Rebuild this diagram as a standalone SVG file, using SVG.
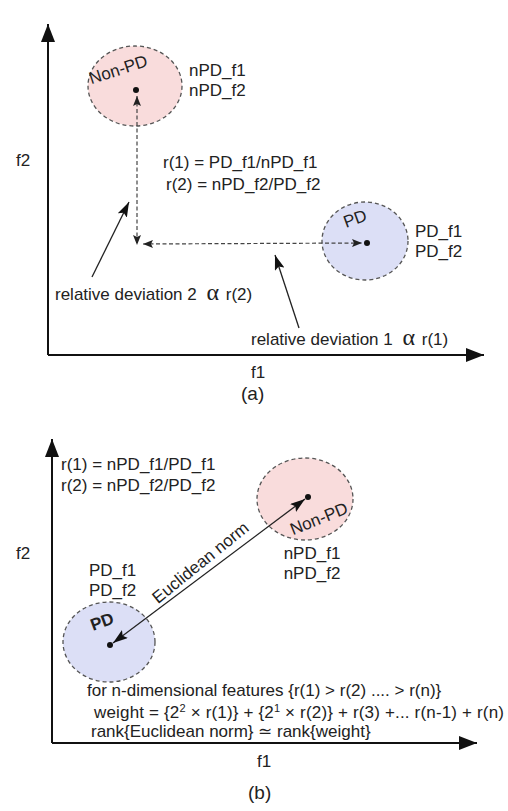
<svg xmlns="http://www.w3.org/2000/svg" width="508" height="811" viewBox="0 0 508 811">
<style>
text{font-family:"Liberation Sans",Arial,sans-serif;font-size:17px;fill:#222}
.axis{stroke:#111;stroke-width:2;fill:none}
.dash{stroke:#444;stroke-width:1.2;stroke-dasharray:4 2.5;fill:none}
.ptr{stroke:#222;stroke-width:1.3;fill:none}
.npd{fill:#f9dcdc;stroke:#555;stroke-width:1.3;stroke-dasharray:4 3}
.pd{fill:#dcdff6;stroke:#555;stroke-width:1.3;stroke-dasharray:4 3}
.alpha{font-family:"Liberation Serif","Times New Roman",serif;font-size:24px}
.cap{font-size:19px}
</style>
<defs>
<marker id="ah" markerUnits="userSpaceOnUse" markerWidth="18" markerHeight="14" refX="18" refY="7" orient="auto"><path d="M0,0 L18,7 L0,14 z" fill="#111"/></marker>
<marker id="as" markerUnits="userSpaceOnUse" markerWidth="10" markerHeight="8" refX="10" refY="4" orient="auto-start-reverse"><path d="M0,0 L10,4 L0,8 L2,4 z" fill="#222"/></marker>
<marker id="am" markerUnits="userSpaceOnUse" markerWidth="15" markerHeight="10" refX="15" refY="5" orient="auto-start-reverse"><path d="M0,0 L15,5 L0,10 L3,5 z" fill="#111"/></marker>
</defs>

<!-- Panel (a) -->
<g id="axes-a">
<path class="axis" d="M48,355 L48,24" marker-end="url(#ah)"/>
<path class="axis" d="M48,355 L484,355" marker-end="url(#ah)"/>
<text x="16" y="166">f2</text>
<text x="251" y="378">f1</text>
<text class="cap" x="241" y="400">(a)</text>
</g>
<g id="nonpd-a">
<ellipse class="npd" cx="135" cy="86" rx="47" ry="40"/>
<circle cx="136" cy="90" r="3" fill="#111"/>
<text transform="translate(120,75) rotate(-18)" text-anchor="middle">Non-PD</text>
<text x="189" y="76">nPD_f1</text>
<text x="189" y="96">nPD_f2</text>
</g>
<g id="pd-a">
<ellipse class="pd" cx="365" cy="241" rx="43" ry="39"/>
<circle cx="367" cy="243" r="3" fill="#111"/>
<text transform="translate(357,224) rotate(-20)" text-anchor="middle">PD</text>
<text x="415" y="237">PD_f1</text>
<text x="415" y="257">PD_f2</text>
</g>
<g id="formula-a">
<text x="163" y="168">r(1) = PD_f1/nPD_f1</text>
<text x="166" y="190">r(2) = nPD_f2/PD_f2</text>
</g>
<g id="dev2-label">
<text x="55" y="300">relative deviation 2 <tspan class="alpha" dx="5">α</tspan> <tspan dx="2">r(2)</tspan></text>
</g>
<g id="dev1-label">
<text x="251" y="345">relative deviation 1 <tspan class="alpha" dx="5">α</tspan> <tspan dx="2">r(1)</tspan></text>
</g>
<g id="connectors-a">
<path class="dash" d="M137,96 L137,245" marker-start="url(#as)" marker-end="url(#as)"/>
<path class="dash" d="M143,244 L362,243" marker-start="url(#as)" marker-end="url(#as)"/>
<path class="ptr" d="M92,277 L129,202" marker-end="url(#am)"/>
<path class="ptr" d="M299,328 L275,255" marker-end="url(#am)"/>
</g>

<!-- Panel (b) -->
<g id="axes-b">
<path class="axis" d="M52,743 L52,439" marker-end="url(#ah)"/>
<path class="axis" d="M52,743 L477,743" marker-end="url(#ah)"/>
<text x="16" y="559">f2</text>
<text x="257" y="767">f1</text>
<text class="cap" x="248" y="799">(b)</text>
</g>
<g id="formula-b">
<text x="61" y="470">r(1) = nPD_f1/PD_f1</text>
<text x="61" y="491">r(2) = nPD_f2/PD_f2</text>
</g>
<g id="nonpd-b">
<ellipse class="npd" cx="305" cy="499" rx="48" ry="41"/>
<circle cx="308" cy="497" r="3" fill="#111"/>
<text transform="translate(321,524) rotate(-22)" text-anchor="middle">Non-PD</text>
<text x="312" y="559" text-anchor="middle">nPD_f1</text>
<text x="312" y="579" text-anchor="middle">nPD_f2</text>
</g>
<g id="pd-b">
<ellipse class="pd" cx="109" cy="642" rx="46" ry="40"/>
<circle cx="110" cy="645" r="3" fill="#111"/>
<text transform="translate(104,627) rotate(-20)" text-anchor="middle" font-weight="bold">PD</text>
<text x="89" y="576">PD_f1</text>
<text x="89" y="596">PD_f2</text>
</g>
<g id="connectors-b">
<path class="ptr" d="M113,643 L305,499" marker-start="url(#am)" marker-end="url(#am)"/>
<text transform="translate(204,567) rotate(-39)" text-anchor="middle">Euclidean norm</text>
</g>
<g id="notes-b">
<text x="87" y="696">for n-dimensional features {r(1) &gt; r(2) .... &gt; r(n)}</text>
<text x="94" y="718" textLength="410">weight = {2<tspan font-size="11" dy="-6">2</tspan><tspan dy="6"> × r(1)} + {2</tspan><tspan font-size="11" dy="-6">1</tspan><tspan dy="6"> × r(2)} + r(3) +... r(n-1) + r(n)</tspan></text>
<text x="91" y="737">rank{Euclidean norm} ≃ rank{weight}</text>
</g>
</svg>
